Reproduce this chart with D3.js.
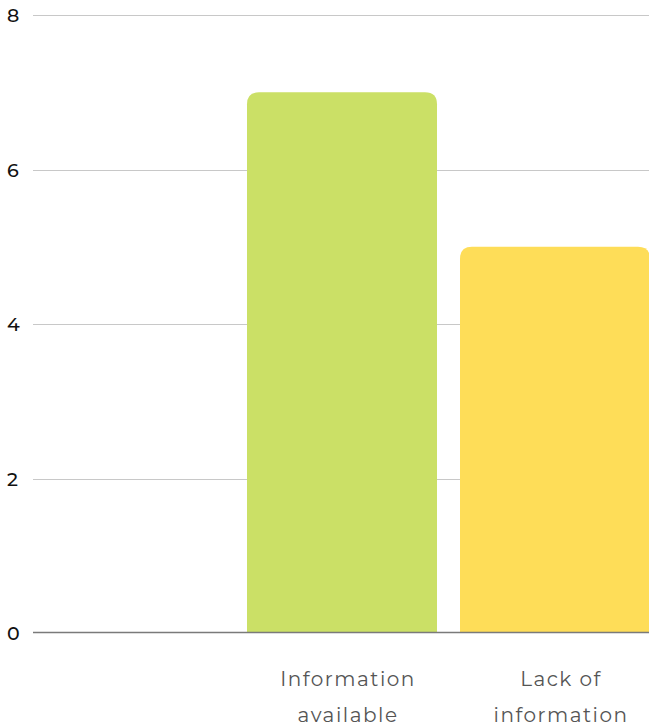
<!DOCTYPE html>
<html><head><meta charset="utf-8">
<script src="https://cdn.jsdelivr.net/npm/d3@7"></script>
<style>body{margin:0;background:#fff}svg{display:block}</style>
</head><body>
<script>
const categories = ["", "Information available", "Lack of information"];
const labelLines = [[], ["Information", "available"], ["Lack of", "information"]];
const values = [0, 7, 5];
const colors = ["#cbe066", "#cbe066", "#fedd58"];
const yTicks = [0, 2, 4, 6, 8];

const W = 649, H = 726;
const svg = d3.select("body").append("svg").attr("width", W).attr("height", H);

const x = d3.scaleBand().domain(categories).range([34, 650]).paddingInner(23/213).paddingOuter(0);
const y = d3.scaleLinear().domain([0, 8]).range([633, 15]);

// gridlines
svg.append("g").selectAll("line").data(yTicks.filter(d => d !== 0)).join("line")
  .attr("x1", 33).attr("x2", W)
  .attr("y1", d => Math.round(y(d)) + 0.5).attr("y2", d => Math.round(y(d)) + 0.5)
  .attr("stroke", "#c8c8c8").attr("stroke-width", 1);

// y labels
svg.append("g").selectAll("text").data(yTicks).join("text")
  .attr("x", 7).attr("y", d => y(d) + 7)
  .attr("font-family", "Montserrat, Lato, 'Noto Sans', sans-serif")
  .attr("font-size", 19).attr("font-weight", 500).attr("fill", "#111")
  .text(d => d);

// bars with rounded top corners
const r = 12;
svg.append("g").selectAll("path").data(categories.map((c, i) => ({c, v: values[i], col: colors[i]})).filter(d => d.v > 0)).join("path")
  .attr("fill", d => d.col)
  .attr("d", d => {
    const x0 = x(d.c), x1 = x0 + x.bandwidth(), y0 = y(0), y1 = y(d.v);
    return `M${x0},${y0}V${y1 + r}Q${x0},${y1} ${x0 + r},${y1}H${x1 - r}Q${x1},${y1} ${x1},${y1 + r}V${y0}Z`;
  });

// baseline
svg.append("line").attr("x1", 33).attr("x2", W)
  .attr("y1", y(0) - 0.5).attr("y2", y(0) - 0.5)
  .attr("stroke", "#7a7a7a").attr("stroke-width", 1.5);

// x labels
const xl = svg.append("g");
categories.forEach((c, i) => {
  const cx = x(c) + x.bandwidth() / 2 + 6;
  const t = xl.append("text")
    .attr("x", cx).attr("y", 686)
    .attr("text-anchor", "middle")
    .attr("font-family", "Montserrat, Lato, 'Noto Sans', sans-serif")
    .attr("font-size", 20).attr("fill", "#555").attr("letter-spacing", "1.5px");
  labelLines[i].forEach((ln, j) => {
    t.append("tspan").attr("x", cx).attr("dy", j === 0 ? 0 : 36).text(ln);
  });
});
</script>
</body></html>
